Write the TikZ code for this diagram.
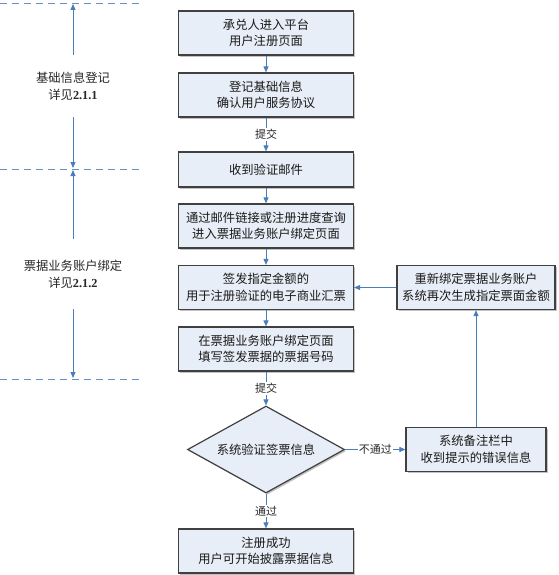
\documentclass[tikz,border=0pt]{standalone}
\usepackage{fontspec}
\setmainfont{Liberation Serif}
\newfontfamily\cjk{Noto Sans CJK SC}
\usetikzlibrary{arrows.meta,shapes.geometric,shadows}
\definecolor{flowblue}{RGB}{74,126,187}
\definecolor{boxfill}{RGB}{232,238,247}
\definecolor{boxline}{RGB}{64,64,64}

\begin{document}
\begin{tikzpicture}[x=1pt,y=-1pt,
        stepbox/.style={draw=boxline,fill=boxfill,line width=1.2pt,minimum width=175pt,minimum height=44pt,
          inner sep=0pt,align=center,text=black!90,font=\cjk\fontsize{12.3}{16.5}\selectfont,
          drop shadow={shadow xshift=1.6pt,shadow yshift=-1.6pt,fill=black!40,opacity=0.6}},
        checkbox/.style={stepbox,shape=diamond,aspect=1.8,minimum width=157pt,minimum height=87pt},
        flow/.style={draw=flowblue,line width=0.9pt,-{Triangle[length=6pt,width=5pt]}},
        flowlabel/.style={fill=white,inner sep=1pt,text=black!85,font=\cjk\fontsize{11}{11}\selectfont},
        phase/.style={align=center,inner sep=0pt,text=black!85,font=\cjk\fontsize{12.3}{17}\selectfont},
        sepline/.style={draw=flowblue!85,line width=0.9pt,dash pattern=on 7pt off 5pt},
        ]
        \useasboundingbox (0,0) rectangle (558,575);
        % phases on the left
        \draw[sepline] (0,3) -- (143,3);
        \draw[sepline] (0,169) -- (143,169);
        \draw[sepline] (0,379) -- (143,379);
        \coordinate (phaseAtop) at (73,4);
        \coordinate (phaseAbot) at (73,168);
        \coordinate (phaseBtop) at (73,170);
        \coordinate (phaseBbot) at (73,378);
        \node[phase,minimum height=62pt] (phaseA) at (73,86) {基础信息登记\\详见{\rmfamily\bfseries 2.1.1}};
        \node[phase,minimum height=70pt] (phaseB) at (73,274) {票据业务账户绑定\\详见{\rmfamily\bfseries 2.1.2}};
        \draw[flow] (phaseA.north) -- (phaseAtop);
        \draw[flow] (phaseA.south) -- (phaseAbot);
        \draw[flow] (phaseB.north) -- (phaseBtop);
        \draw[flow] (phaseB.south) -- (phaseBbot);
        % main flow
        \node[stepbox] (enter) at (266,33) {承兑人进入平台\\用户注册页面};
        \node[stepbox] (register) at (266,95) {登记基础信息\\确认用户服务协议};
        \node[stepbox,minimum height=35pt] (mail) at (266,169.5) {收到验证邮件};
        \node[stepbox] (bindpage) at (266,226) {通过邮件链接或注册进度查询\\进入票据业务账户绑定页面};
        \node[stepbox] (issue) at (266,287.5) {签发指定金额的\\用于注册验证的电子商业汇票};
        \node[stepbox] (fillin) at (266,349) {在票据业务账户绑定页面\\填写签发票据的票据号码};
        \node[checkbox] (verify) at (266,449.5) {系统验证签票信息};
        \node[stepbox] (success) at (266,551) {注册成功\\用户可开始披露票据信息};
        % retry branch
        \node[stepbox,minimum width=158pt] (rebind) at (476,287.5) {重新绑定票据业务账户\\系统再次生成指定票面金额};
        \node[stepbox,minimum width=140pt] (error) at (476,449.5) {系统备注栏中\\收到提示的错误信息};
        \draw[flow] (enter) -- (register);
        \draw[flow] (register) -- node[flowlabel] {提交} (mail);
        \draw[flow] (mail) -- (bindpage);
        \draw[flow] (bindpage) -- (issue);
        \draw[flow] (issue) -- (fillin);
        \draw[flow] (fillin) -- node[flowlabel] {提交} (verify);
        \draw[flow] (verify) -- node[flowlabel] {通过} (success);
        \draw[flow] (verify) -- node[flowlabel] {不通过} (error);
        \draw[flow] (error) -- (rebind);
        \draw[flow] (rebind) -- (issue);
\end{tikzpicture}
\end{document}
